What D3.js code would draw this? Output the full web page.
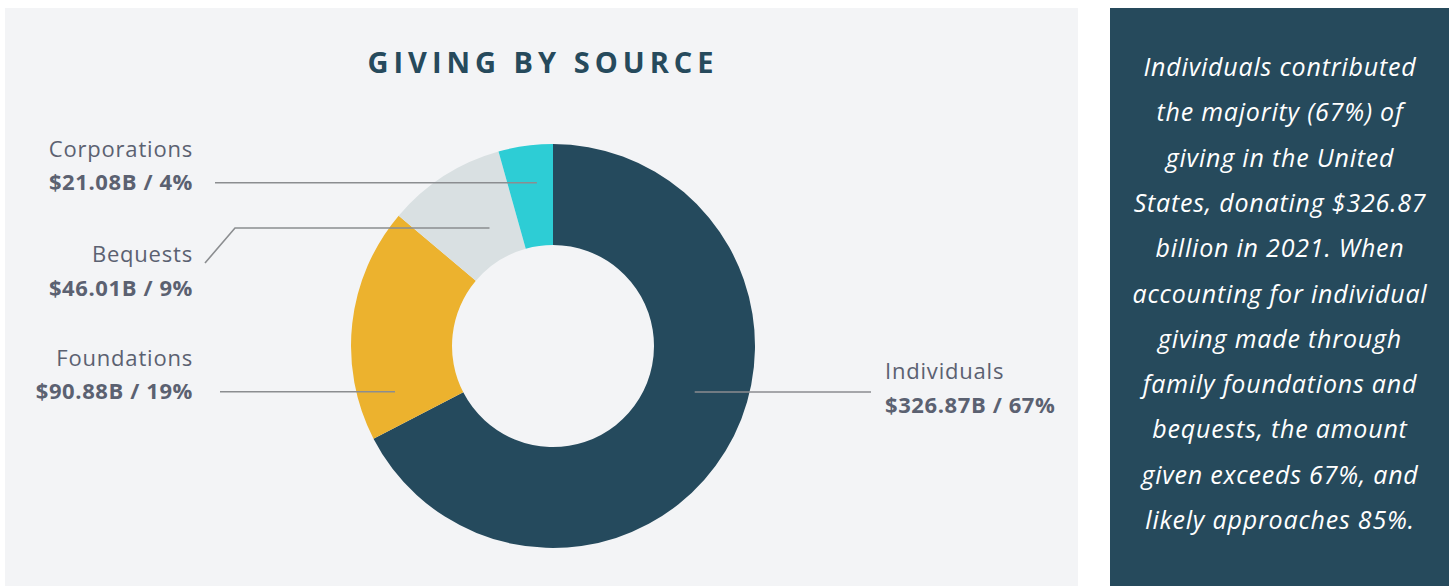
<!DOCTYPE html>
<meta charset="utf-8">
<style>

body {
  margin: 0;
  background: #fff;
}

.chart text {
  font-family: "Open Sans", sans-serif;
}

.label .name {
  fill: #5b6171;
  font-size: 22px;
  letter-spacing: 0.8px;
}

.label .value {
  fill: #5b6171;
  font-size: 22px;
  font-weight: 700;
  letter-spacing: 0.6px;
}

.leader {
  fill: none;
  stroke: #8b8d90;
  stroke-width: 1.6px;
}

.title {
  fill: #264a5c;
  font-size: 29px;
  font-weight: 700;
  letter-spacing: 5px;
  text-anchor: middle;
}

.note {
  fill: #fff;
  font-size: 25px;
  font-style: italic;
  letter-spacing: 0.8px;
  text-anchor: middle;
}

</style>
<svg class="chart"></svg>
<script src="https://cdn.jsdelivr.net/npm/d3@7"></script>
<script>

// chart values
let categories = ["Individuals", "Foundations", "Bequests", "Corporations"];
let amounts = [326.87, 90.88, 46.01, 21.08];   // $ billions
let shares = [67, 19, 9, 4];                   // percent, as printed
let colors = ["#254a5d", "#ecb22e", "#d9e0e2", "#2dcdd5"];

let title = "GIVING BY SOURCE";
let noteLines = [
  "Individuals contributed",
  "the majority (67%) of",
  "giving in the United",
  "States, donating $326.87",
  "billion in 2021. When",
  "accounting for individual",
  "giving made through",
  "family foundations and",
  "bequests, the amount",
  "given exceeds 67%, and",
  "likely approaches 85%."
];

let width = 1449,
    height = 586;

let cx = 553, cy = 346,
    outerR = 202, innerR = 101;

// where each leader line starts inside its slice, and where it runs to
let leaders = {
  "Individuals":  {t: 0.445, r: 149, toX: 871, side: "right"},
  "Foundations":  {t: 0.165, r: 164.5, toX: 220, side: "left"},
  "Bequests":     {t: 0.63, r: 134, toX: 235, elbow: [205, 263], side: "left"},
  "Corporations": {t: 0.64, r: 164, toX: 215, side: "left"}
};

let data = categories.map((c, i) => ({
  name: c, value: amounts[i], share: shares[i], color: colors[i]
}));

let chart = d3.select(".chart")
    .attr("width", width)
    .attr("height", height);

// panels
chart.append("rect")
    .attr("x", 5).attr("y", 8)
    .attr("width", 1073).attr("height", height - 8)
    .attr("fill", "#f3f4f6");

chart.append("rect")
    .attr("x", 1110).attr("y", 8)
    .attr("width", width - 1110).attr("height", height - 8)
    .attr("fill", "#264a5c");

chart.append("text")
    .attr("class", "title")
    .attr("x", 543)
    .attr("y", 73)
    .text(title);

let pie = d3.pie()
    .sort(null)
    .value(d => d.value);

let arc = d3.arc()
    .innerRadius(innerR)
    .outerRadius(outerR);

let arcs = pie(data);

let donut = chart.append("g")
    .attr("transform", "translate(" + cx + "," + cy + ")");

donut.selectAll("path")
    .data(arcs)
  .enter().append("path")
    .attr("d", arc)
    .attr("fill", d => d.data.color);

// leader lines + labels
let fmt = d => "$" + d.data.value.toFixed(2) + "B / " + d.data.share + "%";

arcs.forEach(d => {
  let L = leaders[d.data.name];
  let a = d.startAngle + L.t * (d.endAngle - d.startAngle);
  let p = d3.pointRadial(a, L.r);
  let start = [cx + p[0], cy + p[1]];
  let pts = [start, [L.toX, start[1]]];
  if (L.elbow) pts.push(L.elbow);

  chart.append("path")
      .attr("class", "leader")
      .attr("d", d3.line()(pts));

  let end = pts[pts.length - 1];
  let g = chart.append("g").attr("class", "label");

  if (L.side === "right") {
    g.append("text").attr("class", "name")
        .attr("x", end[0] + 14).attr("y", end[1] - 13)
        .text(d.data.name);
    g.append("text").attr("class", "value")
        .attr("x", end[0] + 14).attr("y", end[1] + 21)
        .text(fmt(d));
  } else {
    let nameY = L.elbow ? end[1] - 1 : end[1] - 26,
        valueY = L.elbow ? end[1] + 33 : end[1] + 7;
    g.append("text").attr("class", "name")
        .attr("x", 193).attr("y", nameY)
        .attr("text-anchor", "end")
        .text(d.data.name);
    g.append("text").attr("class", "value")
        .attr("x", 193).attr("y", valueY)
        .attr("text-anchor", "end")
        .text(fmt(d));
  }
});

// side note
chart.append("g").selectAll("text")
    .data(noteLines)
  .enter().append("text")
    .attr("class", "note")
    .attr("x", 1280)
    .attr("y", (d, i) => 76 + i * 45.3)
    .text(d => d);

</script>
